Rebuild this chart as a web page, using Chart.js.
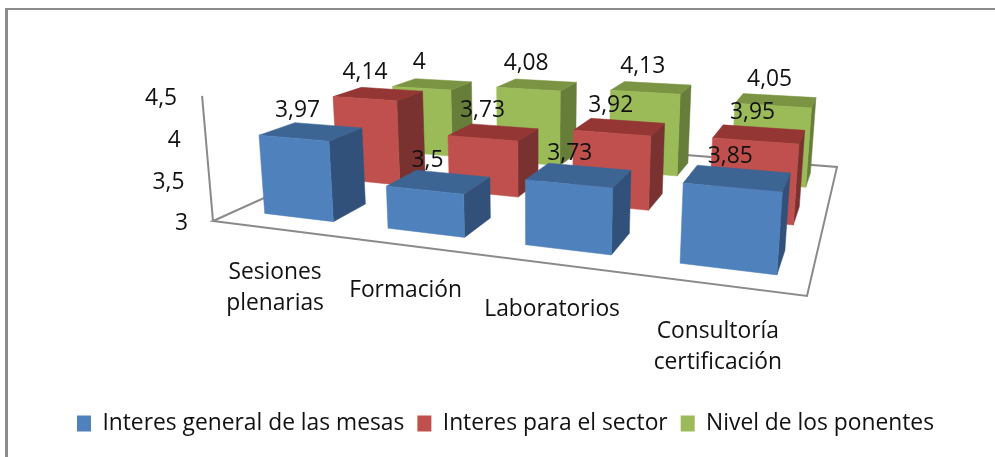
<!DOCTYPE html>
<html>
<head>
<meta charset="utf-8">
<style>
    html, body { margin: 0; padding: 0; background: #fff; }
    #box { position: relative; width: 995px; height: 457px; }
    /* marco gris de la imagen: solo arriba e izquierda */
    #box::before { content: ''; position: absolute; left: 5px; top: 8px; right: 0; height: 2px; background: #8c8c8c; }
    #box::after { content: ''; position: absolute; left: 5px; top: 8px; bottom: 0; width: 3px; background: #8c8c8c; }
</style>
</head>
<body>
<div id="box"><canvas id="chart" width="995" height="457"></canvas></div>
<script src="https://cdn.jsdelivr.net/npm/chart.js@4/dist/chart.umd.min.js"></script>
<script>
// datos
const categories = [['Sesiones', 'plenarias'], ['Formación'], ['Laboratorios'], ['Consultoría', 'certificación']];
const seriesNames = ['Interes general de las mesas', 'Interes para el sector', 'Nivel de los ponentes'];
const generalValues = [3.97, 3.5, 3.73, 3.85];
const sectorValues = [4.14, 3.73, 3.92, 3.95];
const ponentesValues = [4, 4.08, 4.13, 4.05];
const yMin = 3;
const yMax = 4.5;
const yStep = 0.5;

// colores: frente, tapa, lateral
const frontColors = ['#4f81bd', '#c0504d', '#9bbb59'];
const topColors = ['#3d6594', '#943634', '#7b9443'];
const sideColors = ['#31507a', '#7a3230', '#677e3b'];

const FONT = '"Open Sans", sans-serif';
const FONT_SIZE = 22.8;
const TEXT = '#111';

// perspectiva del suelo: esquinas en pantalla -> cuadrado unidad
const H = { a: 422.5, b: 358, c: 213, d: 12.1, e: -34.9, f: 221, g: -0.2125, h: 0.3995 };
const VP = { x: 536, y: 3923 }; // punto de fuga de las verticales
const LAMBDA = 0.0327;
const BAR_SHIFT = 0.006; // las barras no quedan centradas del todo en su categoria

// u,v en el suelo (0..1), z altura (0..1)
function project(u, v, z) {
    const w = H.g * u + H.h * v + 1;
    const px = H.a * u + H.b * v + H.c;
    const py = H.d * u + H.e * v + H.f;
    const k = LAMBDA * z;
    return { x: (px - k * VP.x) / (w - k), y: (py - k * VP.y) / (w - k) };
}

function comma(v) {
    return String(v).replace('.', ',');
}

// altura normalizada a partir de la escala
function heightOf(yScale, value) {
    return yScale.getDecimalForPixel(yScale.getPixelForValue(value));
}

function poly(ctx, pts, fill, stroke) {
    ctx.beginPath();
    pts.forEach((p, i) => i ? ctx.lineTo(p.x, p.y) : ctx.moveTo(p.x, p.y));
    ctx.closePath();
    if (fill) {
        ctx.fillStyle = fill;
        ctx.fill();
    }
    if (stroke) {
        ctx.strokeStyle = stroke;
        ctx.stroke();
    }
}

// barra 3D: usa x/ancho y valor que calcula Chart.js
class Bar3DController extends Chart.BarController {
    draw() {
        const chart = this.chart;
        const ctx = chart.ctx;
        const area = chart.chartArea;
        const yScale = chart.scales.y;
        const row = this.index;
        const rows = chart.data.datasets.length;
        const depth = 0.15;
        const v0 = (row + 0.5) / rows - depth / 2;
        const v1 = v0 + depth;
        this.getMeta().data.forEach((bar, i) => {
            const u0 = (bar.x - bar.width / 2 - area.left) / area.width + BAR_SHIFT;
            const u1 = u0 + bar.width / area.width;
            const z = heightOf(yScale, this.getParsed(i).y);
            const fl = project(u0, v0, 0), fr = project(u1, v0, 0), br = project(u1, v1, 0);
            const tfl = project(u0, v0, z), tfr = project(u1, v0, z);
            const tbr = project(u1, v1, z), tbl = project(u0, v1, z);
            ctx.save();
            ctx.lineWidth = 0.5;
            poly(ctx, [fr, br, tbr, tfr], sideColors[row], sideColors[row]);
            poly(ctx, [tfl, tfr, tbr, tbl], topColors[row], topColors[row]);
            poly(ctx, [fl, fr, tfr, tfl], frontColors[row], frontColors[row]);
            ctx.restore();
        });
    }
}
Bar3DController.id = 'bar3d';
Bar3DController.defaults = Chart.BarController.defaults;
Chart.register(Bar3DController);

// suelo y eje inclinado, textos de ejes y valores
const scene3d = {
    id: 'scene3d',
    beforeDatasetsDraw(chart) {
        const ctx = chart.ctx;
        ctx.save();
        ctx.lineWidth = 2;
        poly(ctx, [project(0, 0, 0), project(1, 0, 0), project(1, 1, 0), project(0, 1, 0)], '#fff', '#8a8a8a');
        const a = project(0, 0, 0), b = project(0, 0, 1);
        ctx.beginPath();
        ctx.moveTo(a.x, a.y);
        ctx.lineTo(b.x, b.y);
        ctx.strokeStyle = '#8a8a8a';
        ctx.stroke();
        ctx.restore();
    },
    afterDatasetsDraw(chart) {
        const ctx = chart.ctx;
        const area = chart.chartArea;
        const xScale = chart.scales.x;
        const yScale = chart.scales.y;
        ctx.save();
        ctx.font = FONT_SIZE + 'px ' + FONT;
        ctx.fillStyle = TEXT;
        ctx.textBaseline = 'middle';

        // etiquetas del eje de valores
        ctx.textAlign = 'right';
        yScale.ticks.forEach(t => {
            const p = project(0, 0, heightOf(yScale, t.value));
            ctx.fillText(comma(t.value), p.x - 25, p.y + 2.5);
        });

        // categorias, bajo el borde frontal del suelo
        ctx.textAlign = 'center';
        categories.forEach((lines, i) => {
            const u = (xScale.getPixelForValue(i) - area.left) / area.width;
            const p = project(u, 0, 0);
            lines.forEach((line, j) => ctx.fillText(line, p.x + 2, p.y + 44 + u * 3 + j * 31));
        });

        // valores encima de cada barra
        chart.data.datasets.forEach((ds, row) => {
            const meta = chart.getDatasetMeta(row);
            meta.data.forEach((bar, i) => {
                const u = (bar.x - area.left) / area.width;
                const v = (row + 0.5) / chart.data.datasets.length;
                const p = project(u, v, heightOf(yScale, ds.data[i]));
                ctx.fillText(comma(ds.data[i]), p.x - 12 + u * 10, p.y - 21);
            });
        });
        ctx.restore();
    }
};

function initChart() {
    const seriesValues = [generalValues, sectorValues, ponentesValues];
    new Chart(document.getElementById('chart'), {
        type: 'bar3d',
        data: {
            labels: categories,
            datasets: seriesNames.map((name, i) => ({
                label: name,
                data: seriesValues[i],
                backgroundColor: frontColors[i],
                borderWidth: 0
            }))
        },
        plugins: [scene3d],
        options: {
            responsive: false,
            animation: false,
            layout: { padding: { bottom: 12, left: 16 } },
            datasets: { bar3d: { grouped: false, categoryPercentage: 1, barPercentage: 0.57 } },
            scales: {
                x: { display: false, offset: true },
                y: { display: false, min: yMin, max: yMax, ticks: { stepSize: yStep } }
            },
            plugins: {
                tooltip: { enabled: false },
                legend: {
                    position: 'bottom',
                    labels: {
                        font: { family: FONT, size: FONT_SIZE },
                        color: TEXT,
                        boxWidth: 14,
                        boxHeight: 16,
                        padding: 13
                    }
                }
            }
        }
    });
}

document.addEventListener('DOMContentLoaded', initChart);
</script>
</body>
</html>
